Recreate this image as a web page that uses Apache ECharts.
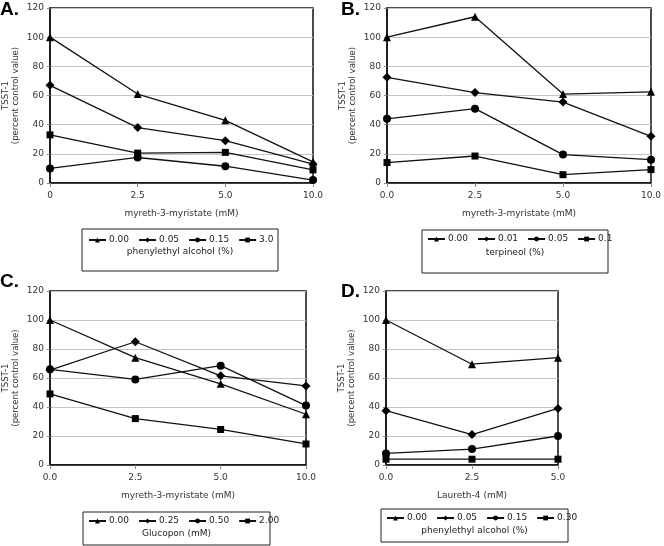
<!DOCTYPE html>
<html>
<head>
<meta charset="utf-8">
<script src="https://cdn.jsdelivr.net/npm/echarts@6/dist/echarts.min.js"></script>
<style>html,body{margin:0;padding:0;background:#fff;}#c{width:664px;height:546px;}</style>
</head>
<body>
<div id="c"></div>
<script>
// ---- data ----
const catsA = ['0', '2.5', '5.0', '10.0'];
const catsB = ['0.0', '2.5', '5.0', '10.0'];
const catsC = ['0.0', '2.5', '5.0', '10.0'];
const catsD = ['0.0', '2.5', '5.0'];

const namesA = ['0.00', '0.05', '0.15', '3.0'];
const namesB = ['0.00', '0.01', '0.05', '0.1'];
const namesC = ['0.00', '0.25', '0.50', '2.00'];
const namesD = ['0.00', '0.05', '0.15', '0.30'];

const A_s1 = [100, 61, 43, 14.5];
const A_s2 = [67, 38, 29, 13];
const A_s3 = [10, 17.5, 11.5, 2];
const A_s4 = [33, 20.5, 21, 9];

const B_s1 = [100, 114, 61, 62.5];
const B_s2 = [72.5, 62, 55.5, 32];
const B_s3 = [44, 51, 19.5, 16];
const B_s4 = [14, 18.5, 5.7, 9.2];

const C_s1 = [100, 74, 56, 35];
const C_s2 = [65.5, 85, 61.5, 54.5];
const C_s3 = [66, 59, 68.5, 41];
const C_s4 = [49, 32, 24.5, 14.5];

const D_s1 = [100, 69.5, 74];
const D_s2 = [37.5, 21, 39];
const D_s3 = [8, 11, 20];
const D_s4 = [4, 4, 4];

const yTicks = {min: 0, max: 120, interval: 20};
const xTitles = ['myreth-3-myristate (mM)', 'myreth-3-myristate (mM)', 'myreth-3-myristate (mM)', 'Laureth-4 (mM)'];
const legendTitles = ['phenylethyl alcohol (%)', 'terpineol (%)', 'Glucopon (mM)', 'phenylethyl alcohol (%)'];
const panelLabels = ['A.', 'B.', 'C.', 'D.'];

// ---- layout ----
const FONT = 'DejaVu Sans';
const grids = [
  {left: 49, top: 8, width: 264, height: 175},
  {left: 387, top: 8, width: 267, height: 175},
  {left: 47, top: 291, width: 259, height: 174},
  {left: 386, top: 291, width: 172, height: 174}
];
const panelLabelPos = [[0, 10], [341, 10], [0, 282], [341, 292]];
const legendBoxes = [
  {x: 82, y: 229, w: 196, h: 42, itemY: 240, titleY: 252, itemLeft: 88},
  {x: 422, y: 230, w: 186, h: 43, itemY: 239, titleY: 253, itemLeft: 427},
  {x: 83, y: 512, w: 187, h: 33, itemY: 521, titleY: 534, itemLeft: 88},
  {x: 381, y: 509, w: 187, h: 33, itemY: 518, titleY: 531, itemLeft: 386}
];

const symbols = ['triangle', 'diamond', 'circle', 'rect'];
const symSizes = [8, 9, 8, 7];
const panels = [
  {key: 'A', cats: catsA, names: namesA, data: [A_s1, A_s2, A_s3, A_s4]},
  {key: 'B', cats: catsB, names: namesB, data: [B_s1, B_s2, B_s3, B_s4]},
  {key: 'C', cats: catsC, names: namesC, data: [C_s1, C_s2, C_s3, C_s4]},
  {key: 'D', cats: catsD, names: namesD, data: [D_s1, D_s2, D_s3, D_s4]}
];

const option = {
  backgroundColor: '#fff',
  animation: false,
  grid: grids.map(g => Object.assign({show: true, borderColor: '#111', borderWidth: 1.5, backgroundColor: 'transparent'}, g)),
  xAxis: panels.map((p, i) => ({
    type: 'category', gridIndex: i, data: p.cats, boundaryGap: false,
    axisLine: {lineStyle: {color: '#111', width: 1.5}},
    axisTick: {show: true, alignWithLabel: true, length: 4, lineStyle: {color: '#888'}},
    axisLabel: {fontFamily: FONT, fontSize: 9, color: '#333', margin: 8},
    splitLine: {show: false},
    name: xTitles[i], nameLocation: 'middle', nameGap: 26,
    nameTextStyle: {fontFamily: FONT, fontSize: 9, color: '#333'}
  })),
  yAxis: panels.map((p, i) => ({
    type: 'value', gridIndex: i, min: yTicks.min, max: yTicks.max, interval: yTicks.interval,
    axisLine: {show: true, lineStyle: {color: '#111', width: 1.5}},
    axisTick: {show: true, length: 3, lineStyle: {color: '#888'}},
    axisLabel: {fontFamily: FONT, fontSize: 9, color: '#333', margin: 6},
    splitLine: {show: true, lineStyle: {color: '#c4c4c4', width: 1}},
    name: 'TSST-1\n(percent control value)', nameLocation: 'middle', nameGap: 29,
    nameTextStyle: {fontFamily: FONT, fontSize: 8.5, color: '#333', lineHeight: 10}
  })),
  legend: panels.map((p, i) => ({
    left: legendBoxes[i].itemLeft, top: legendBoxes[i].itemY - 6, padding: 0,
    orient: 'horizontal', itemWidth: 17, itemHeight: 6, itemGap: 9,
    data: p.names.map(n => p.key + '|' + n),
    formatter: n => n.split('|')[1],
    textStyle: {fontFamily: FONT, fontSize: 9, color: '#222', padding: [0, 0, 0, -2], lineHeight: 12},
    selectedMode: false
  })),
  series: [],
  graphic: []
};

panels.forEach((p, i) => {
  p.data.forEach((d, j) => {
    option.series.push({
      type: 'line', name: p.key + '|' + p.names[j], xAxisIndex: i, yAxisIndex: i,
      data: d, symbol: symbols[j], symbolSize: symSizes[j], showSymbol: true,
      lineStyle: {color: '#111', width: 1.3}, itemStyle: {color: '#000'},
      z: 3
    });
  });
  const b = legendBoxes[i];
  option.graphic.push({
    type: 'rect', shape: {x: b.x, y: b.y, width: b.w, height: b.h},
    style: {fill: 'none', stroke: '#222', lineWidth: 1}
  });
  option.graphic.push({
    type: 'text', x: b.x + b.w / 2, y: b.titleY,
    style: {text: legendTitles[i], fontFamily: FONT, fontSize: 9, fill: '#222', align: 'center', verticalAlign: 'middle'}
  });
  option.graphic.push({
    type: 'text', x: panelLabelPos[i][0], y: panelLabelPos[i][1],
    style: {text: panelLabels[i], fontFamily: 'Liberation Sans', fontWeight: 'bold', fontSize: 19, fill: '#000', align: 'left', verticalAlign: 'middle'}
  });
});

const chart = echarts.init(document.getElementById('c'), null, {renderer: 'canvas'});
chart.setOption(option);
</script>
</body>
</html>
